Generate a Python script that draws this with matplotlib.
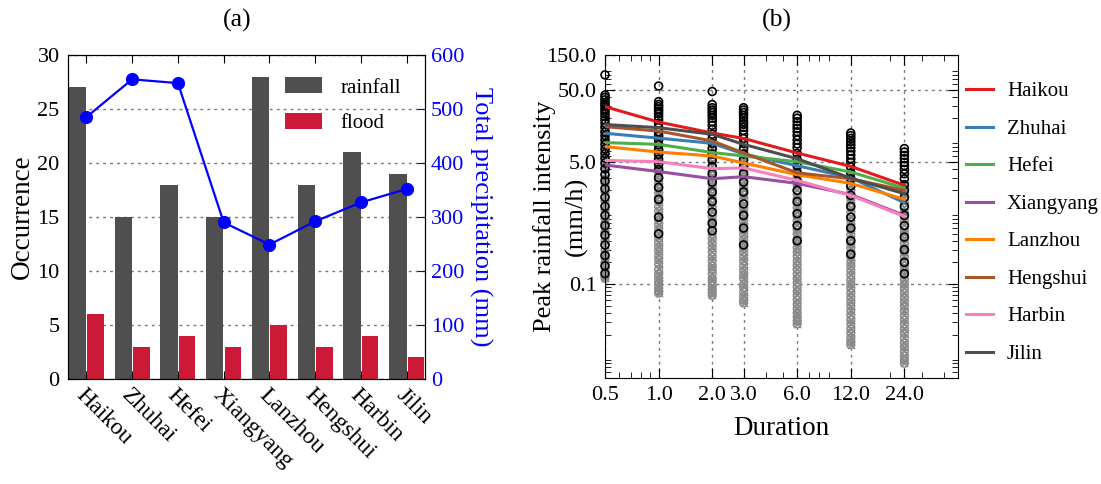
import numpy as np
import matplotlib
matplotlib.use("Agg")
import matplotlib.pyplot as plt
from matplotlib.ticker import FixedLocator, FixedFormatter, NullFormatter

plt.rcParams['font.family'] = ['Liberation Serif', 'DejaVu Serif']

# ---- panel (a) data
cities = ["Haikou", "Zhuhai", "Hefei", "Xiangyang", "Lanzhou", "Hengshui", "Harbin", "Jilin"]
rainfall = [27, 15, 18, 15, 28, 18, 21, 19]
flood = [6, 3, 4, 3, 5, 3, 4, 2]
precip = [485, 555, 548, 290, 249, 292, 327, 352]

# ---- panel (b) data
durations = [0.5, 1.0, 2.0, 3.0, 6.0, 12.0, 24.0]
curves = {
    "Haikou":    [29.0, 17.7, 12.5, 10.5, 6.6, 4.3, 2.35],
    "Zhuhai":    [12.4, 10.6, 9.0, 6.4, 4.4, 3.0, 1.35],
    "Hefei":     [9.2, 8.7, 6.7, 6.0, 5.0, 3.6, 2.15],
    "Xiangyang": [4.5, 3.65, 2.9, 3.1, 2.5, 1.75, 0.9],
    "Lanzhou":   [8.1, 6.8, 6.0, 4.8, 3.3, 2.5, 1.5],
    "Hengshui":  [15.3, 13.3, 9.7, 6.6, 3.5, 2.9, 2.0],
    "Harbin":    [5.2, 5.0, 4.0, 4.1, 2.75, 1.7, 0.87],
    "Jilin":     [16.4, 14.8, 12.0, 8.7, 5.5, 2.95, 1.8],
}
curve_colors = ["#e41a1c", "#377eb8", "#4daf4a", "#984ea3",
                "#ff7f00", "#a65628", "#f781bf", "#4d4d4d"]

# grey crosses: all events, black circles: flood events
grey_05 = [0.12, 0.13, 0.15, 0.17, 0.2, 0.23, 0.26, 0.3, 0.35, 0.4, 0.46, 0.53, 0.61, 0.7,
           0.81, 0.93, 1.07, 1.23, 1.42, 1.64, 1.9, 2.2, 2.5, 2.9, 3.4, 3.9, 4.5, 5.2, 6.0,
           7.0, 8.1, 9.4, 11, 13, 15]
grey_1 = [0.075, 0.08, 0.088, 0.1, 0.11, 0.125, 0.14, 0.16, 0.19, 0.22, 0.25, 0.29, 0.33,
          0.38, 0.44, 0.5, 0.58, 0.67, 0.77, 0.9, 1.03, 1.2, 1.4, 1.6, 1.85, 2.1, 2.45, 2.8,
          3.3, 3.8, 4.4, 5.1, 5.9, 6.8, 7.9, 9.2, 11]
grey_2 = [0.07, 0.076, 0.085, 0.095, 0.11, 0.12, 0.14, 0.16, 0.18, 0.21, 0.24, 0.28, 0.32,
          0.37, 0.43, 0.49, 0.57, 0.66, 0.76, 0.88, 1.0, 1.17, 1.35, 1.55, 1.8, 2.1, 2.4,
          2.8, 3.2, 3.7, 4.3, 5.0, 5.8, 6.7, 7.8, 9.0]
grey_3 = [0.055, 0.06, 0.068, 0.078, 0.09, 0.1, 0.12, 0.135, 0.155, 0.18, 0.21, 0.24, 0.28,
          0.32, 0.37, 0.42, 0.49, 0.56, 0.65, 0.75, 0.86, 1.0, 1.15, 1.3, 1.5, 1.75, 2.0,
          2.3, 2.7, 3.1, 3.6, 4.1, 4.8, 5.5, 6.4, 7.4]
grey_6 = [0.028, 0.031, 0.035, 0.04, 0.046, 0.053, 0.061, 0.07, 0.08, 0.092, 0.106, 0.12,
          0.14, 0.16, 0.185, 0.21, 0.245, 0.28, 0.32, 0.37, 0.43, 0.5, 0.57, 0.66, 0.76,
          0.87, 1.0, 1.15, 1.32, 1.52, 1.75, 2.0, 2.3, 2.65, 3.05, 3.5, 4.0, 4.6]
grey_12 = [0.0145, 0.016, 0.018, 0.021, 0.024, 0.028, 0.032, 0.037, 0.043, 0.05, 0.057,
           0.066, 0.076, 0.088, 0.1, 0.116, 0.134, 0.155, 0.18, 0.205, 0.24, 0.275, 0.32,
           0.365, 0.42, 0.49, 0.56, 0.65, 0.75, 0.86, 1.0, 1.15, 1.32, 1.52, 1.75, 2.0,
           2.3, 2.7, 3.1]
grey_24 = [0.008, 0.009, 0.0102, 0.0117, 0.0135, 0.0155, 0.018, 0.021, 0.024, 0.028, 0.032,
           0.037, 0.043, 0.05, 0.057, 0.066, 0.076, 0.088, 0.1, 0.116, 0.134, 0.155, 0.18,
           0.21, 0.24, 0.28, 0.32, 0.37, 0.43, 0.5, 0.57, 0.66, 0.76, 0.88, 1.0, 1.16, 1.34,
           1.55, 1.8, 2.1, 2.4]
black_05 = [80, 42, 39, 36, 33, 31, 29, 27, 25, 23, 21, 19, 17, 15, 13, 11.5, 10, 8.7, 7.5,
            6.5, 5.6, 4.8, 4.0, 3.3, 2.7, 2.1, 1.6, 1.2, 0.9, 0.65, 0.48, 0.35, 0.25, 0.18,
            0.14]
black_1 = [56, 34, 31, 29, 27, 25, 23, 21, 19, 17, 15, 13, 11.5, 10, 8.6, 7.4, 6.3, 5.4,
           4.6, 3.9, 3.0, 2.2, 1.5, 0.85, 0.5]
black_2 = [47, 31, 28, 26, 24, 22, 20, 18, 16, 14, 12, 10.5, 9, 7.6, 6.4, 5.3, 4.3, 3.4,
           2.6, 1.9, 1.4, 1.0, 0.7, 0.55]
black_3 = [28, 26, 24, 22, 20, 18, 16.5, 15, 13.5, 12, 10.5, 9, 7.6, 6.4, 5.3, 4.3, 3.4,
           2.6, 1.9, 1.3, 0.9, 0.6, 0.35]
black_6 = [22, 20, 18, 16, 14.5, 13, 11.5, 10, 8.8, 7.8, 6.5, 5.4, 4.4, 3.5, 2.7, 2.0, 1.4,
           0.95, 0.65, 0.4]
black_12 = [12.5, 11.5, 10.5, 9.5, 8.6, 7.8, 7, 6.2, 5.5, 4.9, 4.2, 3.5, 2.9, 2.3, 1.7, 1.2,
            0.85, 0.6, 0.4, 0.26]
black_24 = [7.6, 6.8, 6.1, 5.5, 4.9, 4.4, 3.9, 3.4, 2.9, 2.4, 2.0, 1.6, 1.2, 0.9, 0.65,
            0.45, 0.3, 0.2, 0.14]
grey_pts = [grey_05, grey_1, grey_2, grey_3, grey_6, grey_12, grey_24]
black_pts = [black_05, black_1, black_2, black_3, black_6, black_12, black_24]

fig = plt.figure(figsize=(11.01, 4.84), dpi=100)

# ================= (a)
ax1 = fig.add_axes([0.0618, 0.2169, 0.3243, 0.6694])
x = np.arange(len(cities))
w = 0.38
ax1.bar(x - w / 2 - 0.005, rainfall, w, color="#4f4f4f", label="rainfall", zorder=2)
ax1.bar(x + w / 2 + 0.01, flood, w - 0.02, color="#cc1a36", label="flood", zorder=2)
ax1.set_xlim(-0.4, 7.4)
ax1.set_ylim(0, 30)
ax1.set_yticks([0, 5, 10, 15, 20, 25, 30])
ax1.yaxis.grid(True, linestyle=(0, (2, 3)), color="#777777", linewidth=1, zorder=0)
ax1.set_axisbelow(True)
ax1.set_xticks(x)
ax1.set_xticklabels(cities, rotation=-45, ha="left", va="top", rotation_mode="anchor",
                    fontsize=17)
ax1.tick_params(axis="x", direction="in", top=True, length=6, pad=4)
ax1.tick_params(axis="y", direction="in", length=6, labelsize=16, pad=6)
ax1.set_ylabel("Occurrence", fontsize=19.5, labelpad=2)
ax1.legend(loc="upper left", bbox_to_anchor=(0.585, 0.957), frameon=False, fontsize=15,
           handlelength=1.75, handleheight=0.8, handletextpad=0.9, labelspacing=0.75,
           borderaxespad=0)

ax1b = ax1.twinx()
ax1b.plot(x, precip, color="#0000ff", marker="o", markersize=8.5, linewidth=1.6, zorder=3)
ax1b.set_ylim(0, 600)
ax1b.set_yticks([0, 100, 200, 300, 400, 500, 600])
ax1b.tick_params(axis="y", direction="in", length=6, colors="#0000ff", labelsize=16, pad=4)
ax1b.spines["right"].set_color("black")
ax1b.set_ylabel("Total precipitation (mm)", color="#0000ff", fontsize=19, rotation=270,
                labelpad=20)
fig.text(0.215, 0.957, "(a)", ha="center", va="center", fontsize=18.5)

# ================= (b)
ax2 = fig.add_axes([0.5495, 0.219, 0.3206, 0.667])
for d, pts in zip(durations, grey_pts):
    ax2.scatter([d] * len(pts), pts, marker="o", s=30, facecolors="none",
                edgecolors="#8a8a8a", linewidths=1.1, zorder=2, clip_on=False)
    ax2.scatter([d] * len(pts), pts, marker="x", s=26, color="#8a8a8a",
                linewidths=1.1, zorder=2, clip_on=False)
for d, pts in zip(durations, black_pts):
    ax2.scatter([d] * len(pts), pts, marker="o", s=32, facecolors="none",
                edgecolors="black", linewidths=1.2, zorder=3, clip_on=False)
for (name, vals), c in zip(curves.items(), curve_colors):
    ax2.plot(durations, vals, color=c, linewidth=2.2, label=name, zorder=4)

ax2.set_xscale("log")
ax2.set_yscale("log")
ax2.set_xlim(0.5, 48)
ax2.set_ylim(0.005, 150)
ax2.xaxis.set_major_locator(FixedLocator(durations))
ax2.xaxis.set_major_formatter(FixedFormatter(["%.1f" % d for d in durations]))
ax2.xaxis.set_minor_formatter(NullFormatter())
yt = [0.1, 5.0, 50.0, 150.0]
ax2.yaxis.set_major_locator(FixedLocator(yt))
ax2.yaxis.set_major_formatter(FixedFormatter(["%.1f" % v for v in yt]))
ax2.yaxis.set_minor_formatter(NullFormatter())
ax2.grid(True, which="major", linestyle=(0, (2, 3)), color="#777777", linewidth=1, zorder=0)
ax2.tick_params(which="both", direction="in", top=True, right=True, labelsize=16)
ax2.tick_params(which="major", length=7, pad=6)
ax2.tick_params(which="minor", length=4)
ax2.set_xlabel("Duration", fontsize=19.5, labelpad=8)
# two-line y label: second line sits between the tick labels
ax2.set_ylabel("Peak rainfall intensity", fontsize=19)
ax2.yaxis.label.set_va("center")
ax2.yaxis.set_label_coords(-0.172, 0.5)
ax2.text(-0.08, 0.5, "(mm/h)", transform=ax2.transAxes, rotation=90, fontsize=19,
         ha="center", va="center")
ax2.legend(loc="upper left", bbox_to_anchor=(1.0, 0.943), frameon=False, fontsize=15,
           handlelength=1.3, handletextpad=0.65, labelspacing=0.86, borderaxespad=0)
fig.text(0.706, 0.957, "(b)", ha="center", va="center", fontsize=18.5)

fig.savefig("out.png", dpi=100)
